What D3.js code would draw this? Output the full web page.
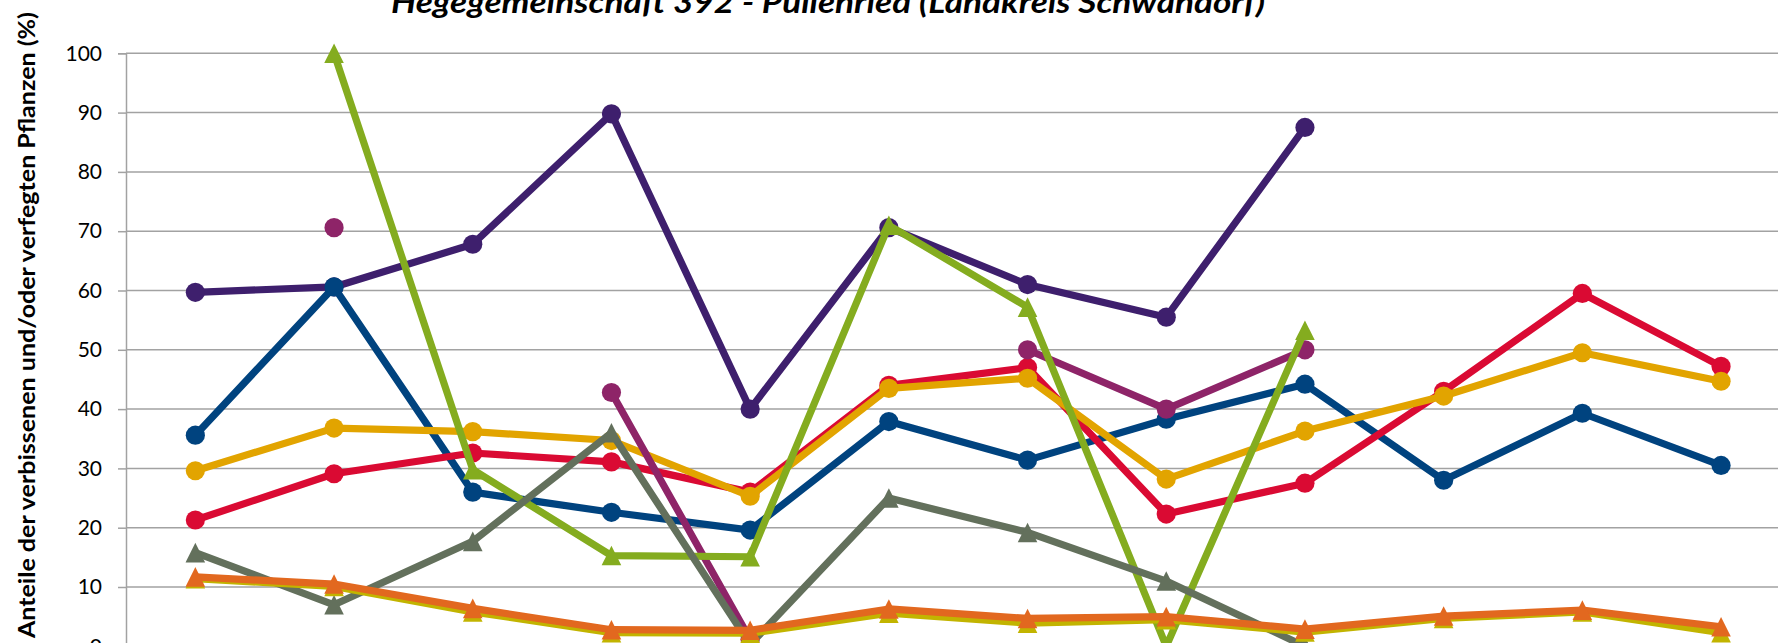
<!DOCTYPE html>
<html>
<head>
<meta charset="utf-8">
<script src="https://cdn.jsdelivr.net/npm/d3@7"></script>
<style>
  html, body { margin: 0; padding: 0; background: #fff; overflow: hidden; }
  svg { display: block; }
</style>
</head>
<body>
<svg id="chart"></svg>
<script>
// Aufnahmejahre (x axis lies below the visible crop)
const years = ['1991', '1994', '1997', '2000', '2003', '2006', '2009', '2012', '2015', '2018', '2021', '2024'];
const yTicks = [0, 10, 20, 30, 40, 50, 60, 70, 80, 90, 100];

// series values in %, null = no survey
const darkPurple = [59.7, 60.6, 67.8, 89.8, 40.0, 70.6, 61.0, 55.5, 87.5, null, null, null];
const blue       = [35.6, 60.6, 26.0, 22.6, 19.6, 37.9, 31.4, 38.3, 44.2, 28.0, 39.3, 30.5];
const red        = [21.3, 29.1, 32.6, 31.1, 26.0, 44.0, 47.0, 22.3, 27.5, 43.0, 59.5, 47.2];
const gold       = [29.6, 36.8, 36.2, 34.7, 25.3, 43.5, 45.2, 28.2, 36.3, 42.2, 49.5, 44.7];
const magenta    = [null, 70.6, null, 42.8, 1.2, null, 50.0, 40.0, 50.0, null, null, null];
const green      = [null, 100, 29.8, 15.3, 15.1, 71.0, 57.2, 0, 53.3, null, null, null];
const grey       = [15.8, 7.0, 17.7, 36.0, 0.3, 25.0, 19.2, 11.0, 0, null, null, null];
const olive      = [11.4, 10.1, 5.8, 2.3, 2.2, 5.6, 3.9, 4.5, 2.4, 4.7, 5.8, 2.3];
const orange     = [11.7, 10.5, 6.4, 2.8, 2.7, 6.3, 4.7, 5.0, 2.9, 5.1, 6.1, 3.3];

const series = [
  { values: darkPurple, color: '#3e1f6d', marker: 'circle' },
  { values: blue,       color: '#00437f', marker: 'circle' },
  { values: red,        color: '#da0a33', marker: 'circle' },
  { values: gold,       color: '#e2a400', marker: 'circle' },
  { values: magenta,    color: '#8e2468', marker: 'circle' },
  { values: green,      color: '#84ac1f', marker: 'triangle' },
  { values: grey,       color: '#63705c', marker: 'triangle' },
  { values: olive,      color: '#c2b400', marker: 'triangle' },
  { values: orange,     color: '#e2681f', marker: 'triangle' }
];

const width = 1778, height = 643;
const margin = { top: 53.3, left: 126 };
const plotW = 12 * 138.7, plotH = 593;

const svg = d3.select('#chart').attr('width', width).attr('height', height);
const g = svg.append('g').attr('transform', `translate(${margin.left},${margin.top})`);

// scales
const x = d3.scaleBand().domain(years).range([0, plotW]).padding(0);
const cx = d => x(d) + x.bandwidth() / 2;
const y = d3.scaleLinear().domain([0, 100]).range([plotH, 0]);

// gridlines
g.append('g')
  .selectAll('line')
  .data(yTicks)
  .join('line')
  .attr('x1', 0).attr('x2', plotW)
  .attr('y1', d => y(d)).attr('y2', d => y(d))
  .attr('stroke', '#a2a2a2')
  .attr('stroke-width', 1.5);

// y axis
const yAxis = g.append('g')
  .call(d3.axisLeft(y).tickValues(yTicks).tickSize(8).tickPadding(16));
yAxis.select('.domain').attr('stroke', '#a2a2a2').attr('stroke-width', 1.5);
yAxis.selectAll('.tick line').attr('stroke', '#a2a2a2').attr('stroke-width', 1.5);
yAxis.selectAll('.tick text')
  .attr('fill', '#000')
  .style('font-family', 'Lato, "Open Sans", sans-serif')
  .style('font-size', '21px');

// x axis (falls below the crop)
g.append('g')
  .attr('transform', `translate(0,${plotH})`)
  .call(d3.axisBottom(x).tickSize(8))
  .call(a => a.selectAll('line, path').attr('stroke', '#a2a2a2'))
  .call(a => a.selectAll('text')
    .attr('fill', '#000')
    .style('font-family', 'Lato, "Open Sans", sans-serif')
    .style('font-size', '21px'));

// lines
const line = d3.line()
  .defined(d => d.v != null)
  .x(d => cx(d.year))
  .y(d => y(d.v));

const triangle = (s) => `M0,${-s}L${s},${s}L${-s},${s}Z`;

series.forEach(s => {
  const pts = years.map((year, i) => ({ year, v: s.values[i] }));
  const sg = g.append('g');

  sg.append('path')
    .datum(pts)
    .attr('d', line)
    .attr('fill', 'none')
    .attr('stroke', s.color)
    .attr('stroke-width', 7.2)
    .attr('stroke-linejoin', 'round')
    .attr('stroke-linecap', 'round');

  const valid = pts.filter(d => d.v != null);
  if (s.marker === 'circle') {
    sg.selectAll('circle')
      .data(valid)
      .join('circle')
      .attr('cx', d => cx(d.year))
      .attr('cy', d => y(d.v))
      .attr('r', 9.6)
      .attr('fill', s.color);
  } else {
    sg.selectAll('path.mark')
      .data(valid)
      .join('path')
      .attr('class', 'mark')
      .attr('transform', d => `translate(${cx(d.year)},${y(d.v)})`)
      .attr('d', triangle(9.8))
      .attr('fill', s.color);
  }
});

// title (cut by the crop at the top)
svg.append('text')
  .attr('x', 828)
  .attr('y', 13)
  .attr('text-anchor', 'middle')
  .attr('textLength', 874)
  .attr('lengthAdjust', 'spacingAndGlyphs')
  .style('font-family', 'Lato, "Open Sans", sans-serif')
  .style('font-weight', 'bold')
  .style('font-style', 'italic')
  .style('font-size', '30px')
  .text('Hegegemeinschaft 392 - Pullenried (Landkreis Schwandorf)');

// y axis title
svg.append('text')
  .attr('transform', 'translate(35,325) rotate(-90)')
  .attr('text-anchor', 'middle')
  .attr('textLength', 626)
  .attr('lengthAdjust', 'spacingAndGlyphs')
  .style('font-family', 'Lato, "Open Sans", sans-serif')
  .style('font-weight', 'bold')
  .style('font-size', '22px')
  .text('Anteile der verbissenen und/oder verfegten Pflanzen (%)');
</script>
</body>
</html>
